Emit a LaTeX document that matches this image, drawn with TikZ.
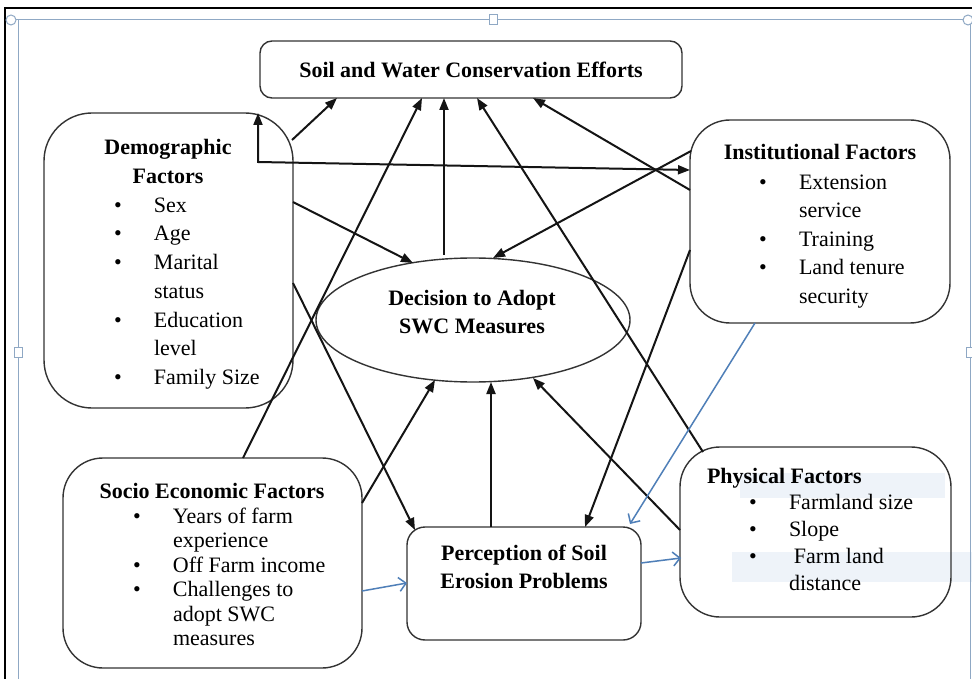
\documentclass[tikz,border=0pt]{standalone}
\usepackage{fontspec}
\setmainfont{Liberation Serif}
\usetikzlibrary{arrows.meta,calc,shapes.geometric}
\definecolor{bluec}{HTML}{4F7FB8}
\definecolor{framec}{HTML}{8FA8C4}
\definecolor{bandc}{HTML}{EEF3F9}
\newcommand\bitem{\makebox[40pt][l]{\textbullet}}
\newcommand\bind{\hspace*{40pt}}
\begin{document}
\begin{tikzpicture}[x=1pt,y=-1pt,
  every node/.style={inner sep=0pt,outer sep=0pt},
  box/.style={draw=black!80,line width=1.4pt,rectangle},
  ttl/.style={font=\fontsize{22}{28.75}\selectfont\bfseries,align=center},
  lst/.style={font=\fontsize{22}{28.75}\selectfont,align=left,anchor=base west},
  arr/.style={draw=black!92,line width=2pt,-{Triangle[length=12pt,width=9pt]}},
  barr/.style={draw=bluec,line width=1.5pt,-{Straight Barb[length=7pt,width=14pt]}},
  fr/.style={draw=framec,line width=1pt}]
\useasboundingbox (0,0) rectangle (972,679);
\fill[white] (0,0) rectangle (972,679);
% faint bands
\fill[bandc] (740,473) rectangle (945,498);
\fill[bandc] (732,552) rectangle (972,582);
% screenshot frame
\draw[black,line width=2pt] (5,679) -- (5,8) -- (972,8);
\draw[fr] (12,20) -- (966,20);
\draw[fr] (18,20) -- (18,679);
\draw[fr] (970,20) -- (970,679);
\draw[fr,fill=white] (11,20) circle (5);
\draw[fr,fill=white] (968,20) circle (5);
\draw[fr,fill=white] (489,15) rectangle (497,25);
\draw[fr,fill=white] (14,347) rectangle (22,357);
\draw[fr,fill=white] (966,347) rectangle (974,357);
% boxes
\node[box,rounded corners=12pt,minimum width=422pt,minimum height=57pt,
  font=\fontsize{22}{28}\selectfont\bfseries] (soil) at (471,69.5) {Soil and Water Conservation Efforts};
\node[box,rounded corners=48pt,minimum width=249pt,minimum height=295pt] (demo) at (168.5,260.5) {};
\node[box,rounded corners=40pt,minimum width=260pt,minimum height=203pt] (inst) at (820,221.5) {};
\node[draw=black!80,line width=1.4pt,ellipse,minimum width=314pt,minimum height=124pt] (ell) at (473,320) {};
\node[box,rounded corners=40pt,minimum width=299pt,minimum height=210pt] (socio) at (212.5,563) {};
\node[box,rounded corners=18pt,minimum width=234pt,minimum height=113pt] (perc) at (524,583.5) {};
\node[box,rounded corners=40pt,minimum width=271pt,minimum height=170pt] (phys) at (815.5,532) {};
% texts (base anchor = baseline of last line)
\node[ttl,anchor=base] (demot) at (168,183.75) {Demographic\\Factors};
\node[lst] (demol) at (114,384.5) {\bitem Sex\\\bitem Age\\\bitem Marital\\\bind status\\\bitem Education\\\bind level\\\bitem Family Size};
\node[ttl,anchor=base] (instt) at (820,160) {Institutional Factors};
\node[lst,font=\fontsize{22}{28.5}\selectfont] (instl) at (759,303) {\bitem Extension\\\bind service\\\bitem Training\\\bitem Land tenure\\\bind security};
\node[ttl,anchor=base west] (physt) at (707,483) {Physical Factors};
\node[lst,font=\fontsize{22}{27}\selectfont] (physl) at (749,590) {\bitem Farmland size\\\bitem Slope\\\bitem\hspace*{5pt}Farm land\\\bind distance};
\node[ttl,anchor=base] (sociot) at (212,498) {Socio Economic Factors};
\node[lst,font=\fontsize{22}{24.5}\selectfont] (sociol) at (133,645.5) {\bitem Years of farm\\\bind experience\\\bitem Off Farm income\\\bitem Challenges to\\\bind adopt SWC\\\bind measures};
\node[ttl,anchor=base,font=\fontsize{22}{28}\selectfont\bfseries] (perct) at (524,588) {Perception of Soil\\Erosion Problems};
\node[ttl,anchor=base,font=\fontsize{22}{28}\selectfont\bfseries] (ellt) at (472,333) {Decision to Adopt\\SWC Measures};
% black connectors
\draw[arr] ($(demo.north east)+(-1,27)$) -- ($(soil.south west)+(77,0)$);
\draw[arr] ($(socio.north west)+(180,0)$) -- ($(soil.south west)+(162,0)$);
\draw[arr] ($(ell.north)+(-29,-3)$) -- ($(soil.south west)+(184,0)$);
\draw[arr] ($(phys.north west)+(23,5)$) -- ($(soil.south west)+(217,0)$);
\draw[arr] ($(inst.north west)+(0,70)$) -- ($(soil.south west)+(273,0)$);
\draw[arr] ($(inst.north west)+(1,31)$) -- ($(ell.north)+(20,0)$);
\draw[arr] ($(demo.north east)+(0,89)$) -- ($(ell.north)+(-60,5)$);
\draw[arr] ($(demo.north east)+(0,170)$) -- ($(perc.north west)+(8,3)$);
\draw[arr] ($(socio.north east)+(0,45)$) -- ($(ell.south)+(-38,-2)$);
\draw[arr] ($(perc.north west)+(84,0)$) -- ($(ell.south)+(18,0)$);
\draw[arr] ($(phys.north west)+(0,83)$) -- ($(ell.south)+(60,-4)$);
\draw[arr] ($(inst.north west)+(0,130)$) -- ($(perc.north west)+(178,0)$);
\draw[draw=black!92,line width=2pt,{Triangle[length=12pt,width=9pt]}-{Triangle[length=12pt,width=9pt]}]
  ($(demo.north west)+(214,0)$) -- ($(demo.north west)+(214,49)$) -- ($(inst.north west)+(0,50)$);
% blue connectors
\draw[barr] ($(inst.south west)+(65,0)$) -- ($(perc.north east)+(-11,-3)$);
\draw[barr] ($(socio.north east)+(0,133)$) -- ($(perc.north west)+(0,56)$);
\draw[barr] ($(perc.north east)+(0,36)$) -- ($(phys.north west)+(1,111)$);
\end{tikzpicture}
\end{document}
